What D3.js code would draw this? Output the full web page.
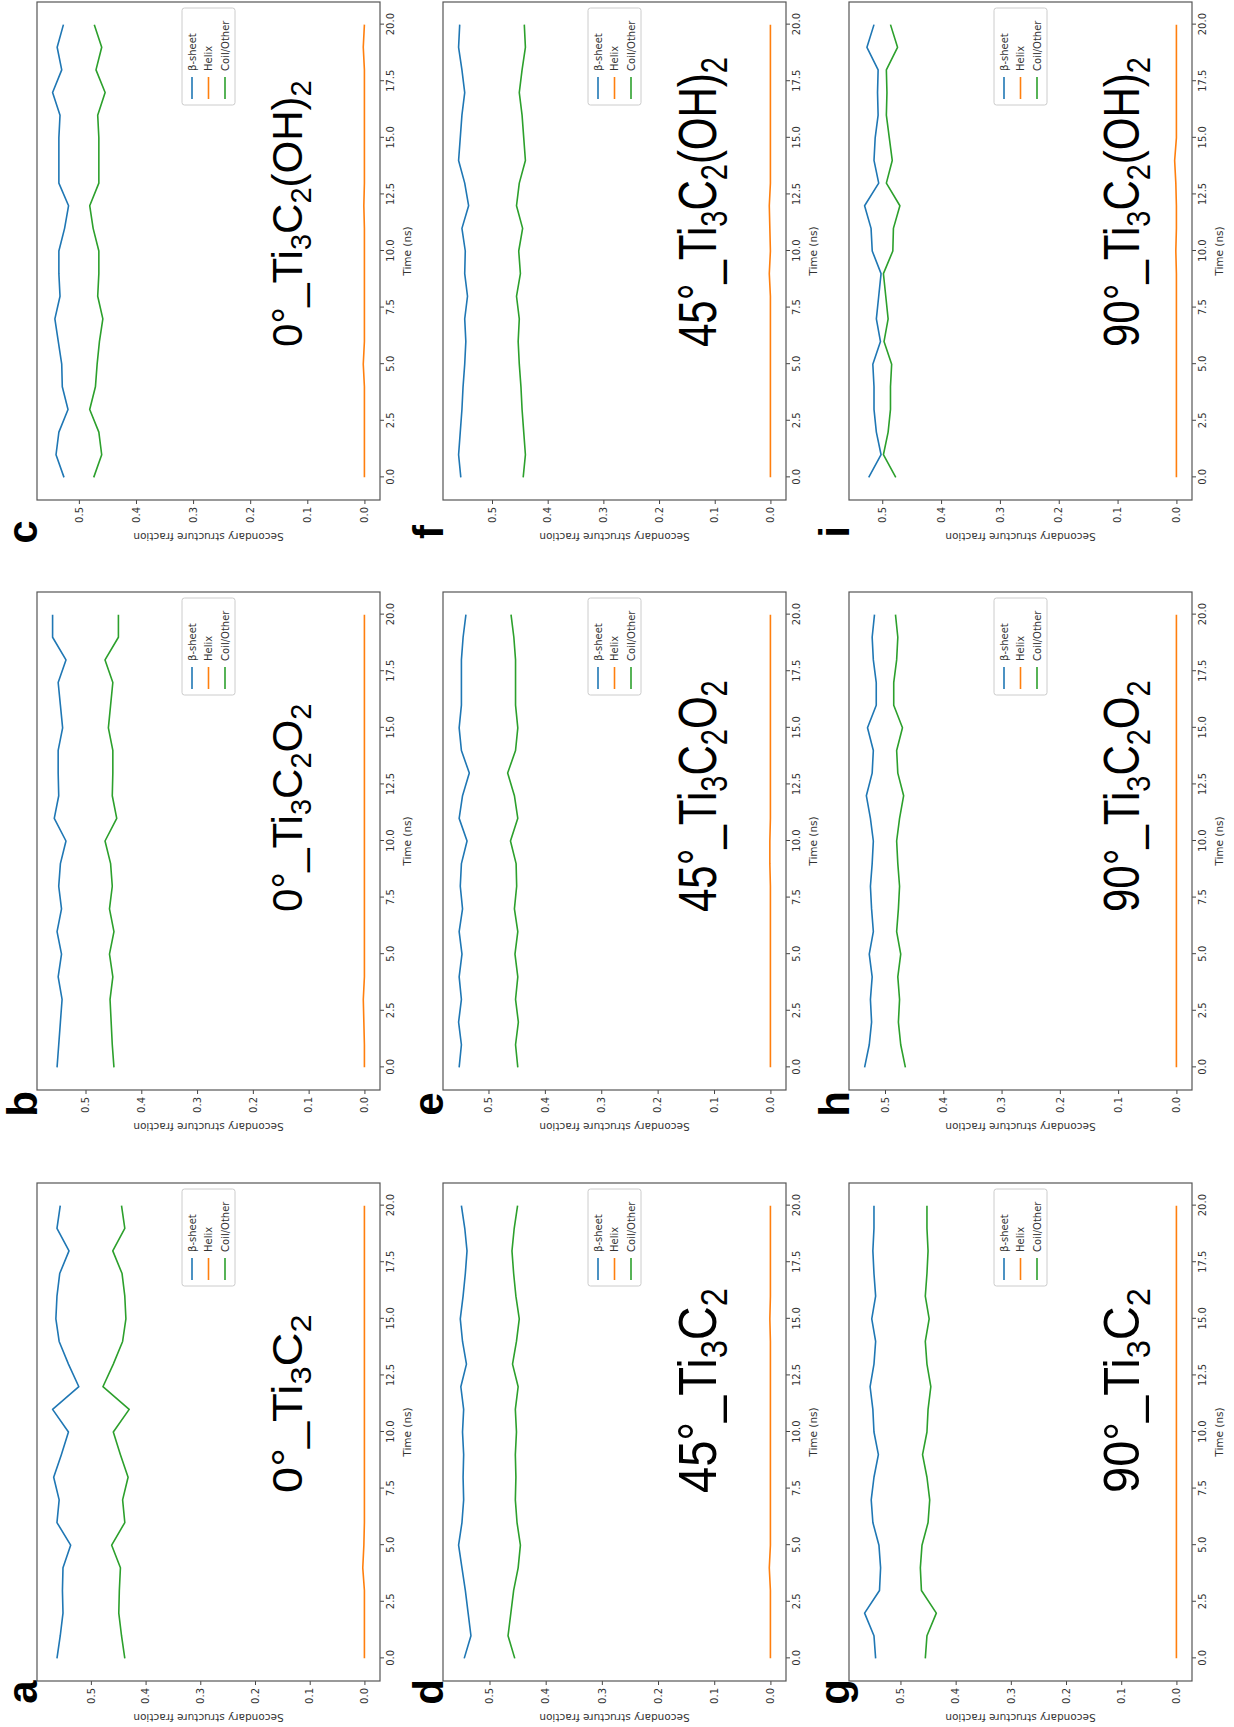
<!DOCTYPE html>
<html>
<head>
<meta charset="utf-8">
<script src="https://cdn.jsdelivr.net/npm/d3@7"></script>
<style>
  body { margin: 0; background: #fff; }
  text { font-family: "DejaVu Sans", sans-serif; }
</style>
</head>
<body>
<svg id="fig"></svg>
<script>
// time axis (ns) and its ticks
const time = [0, 1, 2, 3, 4, 5, 6, 7, 8, 9, 10, 11, 12, 13, 14, 15, 16, 17, 18, 19, 20]
const timeTicks = [0, 2.5, 5, 7.5, 10, 12.5, 15, 17.5, 20]
const fracTicks = [0, 0.1, 0.2, 0.3, 0.4, 0.5]

const angles = ["0°", "45°", "90°"]
const materials = ["Ti3C2", "Ti3C2O2", "Ti3C2(OH)2"]
const letters = ["a", "b", "c", "d", "e", "f", "g", "h", "i"]
const seriesNames = ["β-sheet", "Helix", "Coil/Other"]

// a: 0° Ti3C2
const betaA = [0.562, 0.556, 0.551, 0.552, 0.551, 0.537, 0.562, 0.558, 0.568, 0.554, 0.541, 0.570, 0.522, 0.541, 0.558, 0.564, 0.562, 0.557, 0.540, 0.562, 0.556]
const helixA = [0, 0, 0, 0, 0.003, 0.001, 0, 0, 0, 0, 0, 0, 0, 0, 0, 0, 0, 0, 0, 0, 0]
const coilA = [0.438, 0.444, 0.449, 0.448, 0.446, 0.462, 0.438, 0.442, 0.432, 0.446, 0.459, 0.430, 0.478, 0.459, 0.442, 0.436, 0.438, 0.443, 0.460, 0.438, 0.444]
// b: 0° Ti3C2O2
const betaB = [0.551, 0.548, 0.545, 0.542, 0.549, 0.543, 0.551, 0.543, 0.548, 0.545, 0.535, 0.556, 0.548, 0.549, 0.549, 0.541, 0.545, 0.549, 0.535, 0.559, 0.559]
const helixB = [0, 0, 0.001, 0.002, 0, 0, 0, 0, 0, 0, 0, 0, 0, 0, 0, 0, 0, 0, 0, 0, 0]
const coilB = [0.449, 0.452, 0.454, 0.456, 0.451, 0.457, 0.449, 0.457, 0.452, 0.455, 0.465, 0.444, 0.452, 0.451, 0.451, 0.459, 0.455, 0.451, 0.465, 0.441, 0.441]
// c: 0° Ti3C2(OH)2
const betaC = [0.526, 0.540, 0.535, 0.519, 0.529, 0.530, 0.536, 0.542, 0.533, 0.535, 0.535, 0.525, 0.518, 0.535, 0.535, 0.535, 0.533, 0.546, 0.530, 0.538, 0.527]
const helixC = [0, 0, 0, 0, 0, 0.002, 0, 0, 0, 0, 0, 0, 0.001, 0, 0, 0, 0, 0, 0, 0.002, 0]
const coilC = [0.474, 0.460, 0.465, 0.481, 0.471, 0.468, 0.464, 0.458, 0.467, 0.465, 0.465, 0.475, 0.481, 0.465, 0.465, 0.465, 0.467, 0.454, 0.470, 0.460, 0.473]
// d: 45° Ti3C2
const betaD = [0.545, 0.533, 0.538, 0.543, 0.549, 0.555, 0.549, 0.546, 0.547, 0.546, 0.548, 0.546, 0.551, 0.541, 0.548, 0.552, 0.547, 0.543, 0.540, 0.544, 0.550]
const helixD = [0, 0, 0, 0, 0.002, 0, 0, 0, 0, 0, 0, 0, 0, 0, 0, 0.001, 0, 0, 0, 0, 0]
const coilD = [0.455, 0.467, 0.462, 0.457, 0.449, 0.445, 0.451, 0.454, 0.453, 0.454, 0.452, 0.454, 0.449, 0.459, 0.452, 0.447, 0.453, 0.457, 0.460, 0.456, 0.450]
// e: 45° Ti3C2O2
const betaE = [0.552, 0.548, 0.553, 0.548, 0.552, 0.547, 0.552, 0.546, 0.550, 0.548, 0.538, 0.552, 0.546, 0.534, 0.548, 0.552, 0.548, 0.548, 0.548, 0.545, 0.540]
const helixE = [0, 0, 0, 0, 0, 0, 0, 0, 0, 0.001, 0.001, 0, 0, 0, 0, 0, 0, 0, 0, 0, 0]
const coilE = [0.448, 0.452, 0.447, 0.452, 0.448, 0.453, 0.448, 0.454, 0.450, 0.451, 0.461, 0.448, 0.454, 0.466, 0.452, 0.448, 0.452, 0.452, 0.452, 0.455, 0.460]
// f: 45° Ti3C2(OH)2
const betaF = [0.556, 0.560, 0.557, 0.554, 0.552, 0.549, 0.547, 0.549, 0.544, 0.549, 0.548, 0.554, 0.542, 0.549, 0.560, 0.557, 0.554, 0.549, 0.554, 0.560, 0.558]
const helixF = [0, 0, 0, 0, 0, 0, 0, 0, 0, 0.002, 0, 0.001, 0.002, 0, 0, 0, 0, 0, 0, 0, 0]
const coilF = [0.444, 0.440, 0.443, 0.446, 0.448, 0.451, 0.453, 0.451, 0.456, 0.449, 0.452, 0.445, 0.456, 0.451, 0.440, 0.443, 0.446, 0.451, 0.446, 0.440, 0.442]
// g: 90° Ti3C2
const betaG = [0.545, 0.548, 0.565, 0.538, 0.536, 0.539, 0.550, 0.553, 0.548, 0.540, 0.548, 0.550, 0.555, 0.548, 0.545, 0.552, 0.545, 0.548, 0.550, 0.548, 0.548]
const helixG = [0, 0, 0, 0, 0, 0, 0, 0, 0, 0, 0, 0, 0, 0, 0, 0, 0, 0, 0, 0, 0]
const coilG = [0.455, 0.452, 0.435, 0.462, 0.464, 0.461, 0.450, 0.447, 0.452, 0.460, 0.452, 0.450, 0.445, 0.452, 0.455, 0.448, 0.455, 0.452, 0.450, 0.452, 0.452]
// h: 90° Ti3C2O2
const betaH = [0.535, 0.527, 0.523, 0.525, 0.522, 0.527, 0.520, 0.523, 0.525, 0.522, 0.520, 0.525, 0.532, 0.522, 0.520, 0.530, 0.515, 0.515, 0.520, 0.522, 0.518]
const helixH = [0, 0, 0, 0, 0, 0, 0, 0, 0, 0, 0, 0, 0, 0, 0, 0, 0, 0, 0, 0, 0]
const coilH = [0.465, 0.473, 0.477, 0.475, 0.478, 0.473, 0.480, 0.477, 0.475, 0.478, 0.480, 0.475, 0.468, 0.478, 0.480, 0.470, 0.485, 0.485, 0.480, 0.478, 0.482]
// i: 90° Ti3C2(OH)2
const betaI = [0.523, 0.502, 0.510, 0.514, 0.514, 0.516, 0.503, 0.510, 0.506, 0.502, 0.517, 0.519, 0.530, 0.506, 0.514, 0.512, 0.507, 0.508, 0.507, 0.526, 0.514]
const helixI = [0, 0, 0, 0, 0, 0, 0, 0, 0, 0, 0.001, 0, 0, 0.001, 0.003, 0, 0, 0, 0, 0, 0]
const coilI = [0.477, 0.498, 0.490, 0.486, 0.486, 0.484, 0.497, 0.490, 0.494, 0.498, 0.482, 0.481, 0.470, 0.493, 0.483, 0.488, 0.493, 0.492, 0.493, 0.474, 0.486]

const panelSeries = [
    [betaA, helixA, coilA], [betaB, helixB, coilB], [betaC, helixC, coilC],
    [betaD, helixD, coilD], [betaE, helixE, coilE], [betaF, helixF, coilF],
    [betaG, helixG, coilG], [betaH, helixH, coilH], [betaI, helixI, coilI]
]
const colors = ["#1f77b4", "#ff7f0e", "#2ca02c"]

const W = 1234, H = 1727
const svg = d3.select("#fig").attr("width", W).attr("height", H)
// the whole figure is laid out landscape, then turned a quarter turn
const fig = svg.append("g").attr("transform", `translate(0,${H}) rotate(-90)`)

// layout in the landscape frame
const colLeft = [46, 637, 1227]
const rowTop = [37, 443, 849]
const pw = 498, ph = 343
const letterX = [35, 623, 1195]
const titleX = [234, 815, 1380]
const titleBase = [265, 273, 290]
const titleStretchX = [1.12, 1.0, 1.0]
const titleStretchY = [1.0, 1.27, 1.17]   // titles in lower rows are taller in the source

function drawTitle(g, angle, mat, x, y, sx, sy) {
    const t = g.append("text")
        .attr("transform", `translate(${x},${y}) scale(${sx},${sy})`)
        .style("font-family", "'Liberation Sans', Arial, sans-serif")
        .style("font-size", "42px")
        .attr("fill", "#000")
    t.append("tspan").text(angle + "_")
    // digits in the formula are subscripts
    const parts = mat.match(/\d+|\D+/g)
    let low = false
    parts.forEach(s => {
        const isSub = /\d/.test(s)
        const dy = isSub && !low ? 9 : (!isSub && low ? -9 : 0)
        low = isSub
        t.append("tspan").attr("dy", dy).style("font-size", isSub ? "29px" : "42px").text(s)
    })
}

panelSeries.forEach((series, i) => {
    const row = Math.floor(i / 3), col = i % 3
    const g = fig.append("g").attr("transform", `translate(${colLeft[col]},${rowTop[row]})`)

    const x = d3.scaleLinear().domain([-1, 21]).range([0, pw])
    const all = series.flat()
    const lo = d3.min(all), hi = d3.max(all)
    const pad = (hi - lo) * 0.05
    const y = d3.scaleLinear().domain([lo - pad, hi + pad]).range([ph, 0])

    // axes
    const xa = g.append("g").attr("transform", `translate(0,${ph})`)
        .call(d3.axisBottom(x).tickValues(timeTicks).tickFormat(d3.format(".1f")).tickSize(4).tickPadding(3))
    const ya = g.append("g")
        .call(d3.axisLeft(y).tickValues(fracTicks).tickFormat(d3.format(".1f")).tickSize(4).tickPadding(3))
    ;[xa, ya].forEach(a => {
        a.select(".domain").remove()
        a.selectAll("line").attr("stroke", "#444")
        a.selectAll("text").attr("fill", "#333").style("font-size", "10px").style("font-family", "'DejaVu Sans', sans-serif")
    })

    g.append("text").attr("x", pw / 2).attr("y", ph + 31)
        .attr("text-anchor", "middle").style("font-size", "10.5px").attr("fill", "#333")
        .text("Time (ns)")
    g.append("text").attr("transform", `translate(-33,${ph / 2}) rotate(-90)`)
        .attr("text-anchor", "middle").style("font-size", "10.5px").attr("fill", "#333")
        .text("Secondary structure fraction")

    const line = d3.line().x((d, k) => x(time[k])).y(d => y(d))
    series.forEach((s, k) => {
        g.append("path").datum(s).attr("d", line)
            .attr("fill", "none").attr("stroke", colors[k]).attr("stroke-width", 1.6)
            .attr("stroke-linejoin", "round")
    })

    g.append("rect").attr("width", pw).attr("height", ph)
        .attr("fill", "none").attr("stroke", "#555").attr("stroke-width", 1.2)

    // legend, centre right
    const lw = 97, lh = 53
    const lg = g.append("g").attr("transform", `translate(${pw - 6 - lw},${ph / 2 - lh / 2})`)
    lg.append("rect").attr("width", lw).attr("height", lh).attr("rx", 2.5)
        .attr("fill", "#fff").attr("fill-opacity", 0.8).attr("stroke", "#ccc")
    seriesNames.forEach((n, k) => {
        const yy = 10 + k * 16.5
        lg.append("line").attr("x1", 6).attr("x2", 28).attr("y1", yy).attr("y2", yy)
            .attr("stroke", colors[k]).attr("stroke-width", 1.6)
        lg.append("text").attr("x", 34).attr("y", yy).attr("dy", "0.35em")
            .style("font-size", "10px").attr("fill", "#333").text(n)
    })

    drawTitle(fig, angles[row], materials[col], titleX[col], rowTop[row] + titleBase[row],
        titleStretchX[col], titleStretchY[row])

    fig.append("text").attr("x", letterX[col]).attr("y", rowTop[row])
        .attr("text-anchor", "middle")
        .style("font-family", "'Liberation Sans', Arial, sans-serif")
        .style("font-weight", "bold").style("font-size", "42px")
        .text(letters[i])
})
</script>
</body>
</html>
